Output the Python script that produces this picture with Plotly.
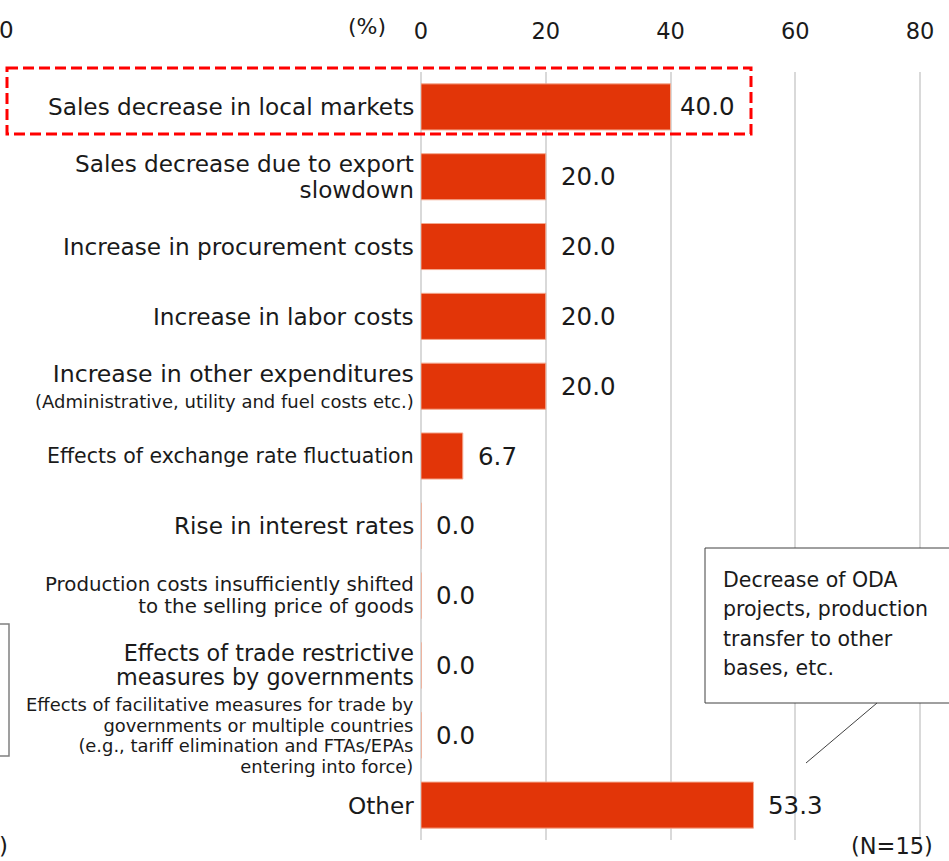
import plotly.graph_objects as go

# ---- data ----
categories = [
    "Sales decrease in local markets",
    "Sales decrease due to export slowdown",
    "Increase in procurement costs",
    "Increase in labor costs",
    "Increase in other expenditures (Administrative, utility and fuel costs etc.)",
    "Effects of exchange rate fluctuation",
    "Rise in interest rates",
    "Production costs insufficiently shifted to the selling price of goods",
    "Effects of trade restrictive measures by governments",
    "Effects of facilitative measures for trade by governments or multiple countries (e.g., tariff elimination and FTAs/EPAs entering into force)",
    "Other",
]
values = [40.0, 20.0, 20.0, 20.0, 20.0, 6.7, 0.0, 0.0, 0.0, 0.0, 53.3]
label_lines = [
    ["Sales decrease in local markets"],
    ["Sales decrease due to export", "slowdown"],
    ["Increase in procurement costs"],
    ["Increase in labor costs"],
    ["Increase in other expenditures", "(Administrative, utility and fuel costs etc.)"],
    ["Effects of exchange rate fluctuation"],
    ["Rise in interest rates"],
    ["Production costs insufficiently shifted", "to the selling price of goods"],
    ["Effects of trade restrictive", "measures by governments"],
    ["Effects of facilitative measures for trade by", "governments or multiple countries",
     "(e.g., tariff elimination and FTAs/EPAs", "entering into force)"],
    ["Other"],
]
tick_values = [0, 20, 40, 60, 80]
callout_text = ["Decrease of ODA", "projects, production", "transfer to other", "bases, etc."]
n_note = "(N=15)"
unit_label = "(%)"

# ---- style (per-label font sizes: line font sizes, base size controlling line spacing) ----
label_styles = [
    ([23.2], 23),
    ([23.2, 23.2], 20),
    ([23.2], 23),
    ([23.2], 23),
    ([23.6, 18], 20),
    ([20.5], 20),
    ([23.2], 23),
    ([19.8, 19.8], 16.6),
    ([22.3, 22.3], 18.8),
    ([17.9, 17.9, 17.9, 17.9], 15.8),
    ([23.2], 23),
]
value_shift = [7, 13, 13, 13, 13, 13, 13, 13, 13, 13, 13]

W, H = 949, 861
L, R, T, B = 421, 0, 72, 21
PW, PH = W - L - R, H - T - B
XMAX = (W - L) / 6.2375


def px(x):
    return (x - L) / PW


def py(y):
    return (H - B - y) / PH


FONT = "DejaVu Sans"
TXT = "#1a1a1a"

fig = go.Figure()
fig.add_trace(go.Bar(
    x=values, y=categories, orientation="h",
    marker=dict(color="#E23508", line=dict(color="#F4A88E", width=1)),
    hoverinfo="skip",
))

annotations = []
# category labels
for cat, lines, (sizes, base) in zip(categories, label_lines, label_styles):
    txt = "<br>".join(f"<span style='font-size:{s}px'>{ln}</span>" for ln, s in zip(lines, sizes))
    annotations.append(dict(
        x=0, y=cat, xref="x", yref="y", text=txt, showarrow=False,
        xanchor="right", yanchor="middle", align="right", xshift=-5,
        font=dict(family=FONT, size=base, color=TXT),
    ))
# value labels
for cat, v, sh in zip(categories, values, value_shift):
    annotations.append(dict(
        x=v, y=cat, xref="x", yref="y", text=f"{v:.1f}", showarrow=False,
        xanchor="left", yanchor="middle", xshift=sh,
        font=dict(family=FONT, size=24.5, color=TXT),
    ))
# unit, N, fragments
annotations += [
    dict(x=px(367), y=py(26), xref="paper", yref="paper", text=unit_label, showarrow=False,
         xanchor="center", yanchor="middle", font=dict(family=FONT, size=22, color=TXT)),
    dict(x=px(-3), y=py(30), xref="paper", yref="paper", text="0", showarrow=False,
         xanchor="left", yanchor="middle", font=dict(family=FONT, size=23, color=TXT)),
    dict(x=px(-3), y=py(846), xref="paper", yref="paper", text=")", showarrow=False,
         xanchor="left", yanchor="middle", font=dict(family=FONT, size=23, color=TXT)),
    dict(x=px(935), y=py(846), xref="paper", yref="paper", text=n_note, showarrow=False,
         xanchor="right", yanchor="middle", font=dict(family=FONT, size=22.5, color=TXT)),
    dict(x=px(721), y=py(566), xref="paper", yref="paper",
         text="<br>".join(f"<span style='font-size:20.5px'>{ln}</span>" for ln in callout_text),
         showarrow=False, xanchor="left", yanchor="top", align="left",
         font=dict(family=FONT, size=22.5, color=TXT)),
]

shapes = [
    # dashed highlight around first row
    dict(type="rect", xref="paper", yref="paper", x0=px(7), x1=px(751), y0=py(68), y1=py(134),
         line=dict(color="#FF0000", width=3, dash="11px,5px"), fillcolor="rgba(0,0,0,0)", layer="above"),
    # callout box
    dict(type="rect", xref="paper", yref="paper", x0=px(705), x1=px(970), y0=py(548), y1=py(703),
         line=dict(color="#404040", width=1), fillcolor="white", layer="above"),
    dict(type="line", xref="paper", yref="paper", x0=px(877), y0=py(703), x1=px(806), y1=py(763),
         line=dict(color="#404040", width=1), layer="above"),
    # fragment of neighbouring panel box
    dict(type="path", xref="paper", yref="paper",
         path=f"M {px(-2)} {py(624)} L {px(9)} {py(624)} L {px(9)} {py(756)} L {px(-2)} {py(756)}",
         line=dict(color="#808080", width=1.5), layer="above"),
]

fig.update_layout(
    width=W, height=H,
    margin=dict(l=L, r=R, t=T, b=B, pad=0),
    paper_bgcolor="white", plot_bgcolor="white",
    showlegend=False, bargap=0.34,
    font=dict(family=FONT, color=TXT),
    xaxis=dict(
        range=[0, XMAX], side="top", tickvals=tick_values, ticks="",
        showgrid=True, gridcolor="#D9D9D9", gridwidth=1.5,
        zeroline=True, zerolinecolor="#D9D9D9", zerolinewidth=1.5,
        showline=False, tickfont=dict(family=FONT, size=22.5, color=TXT),
        ticklabelstandoff=28, fixedrange=True,
    ),
    yaxis=dict(
        categoryorder="array", categoryarray=categories, autorange="reversed",
        showticklabels=False, showgrid=False, zeroline=False, showline=False, ticks="",
        fixedrange=True,
    ),
    annotations=annotations,
    shapes=shapes,
)

fig.write_html(
    "out.html",
    config={"displayModeBar": False},
    post_script="document.body.style.margin='0';document.body.style.padding='0';"
                "document.body.style.overflow='hidden';",
)
